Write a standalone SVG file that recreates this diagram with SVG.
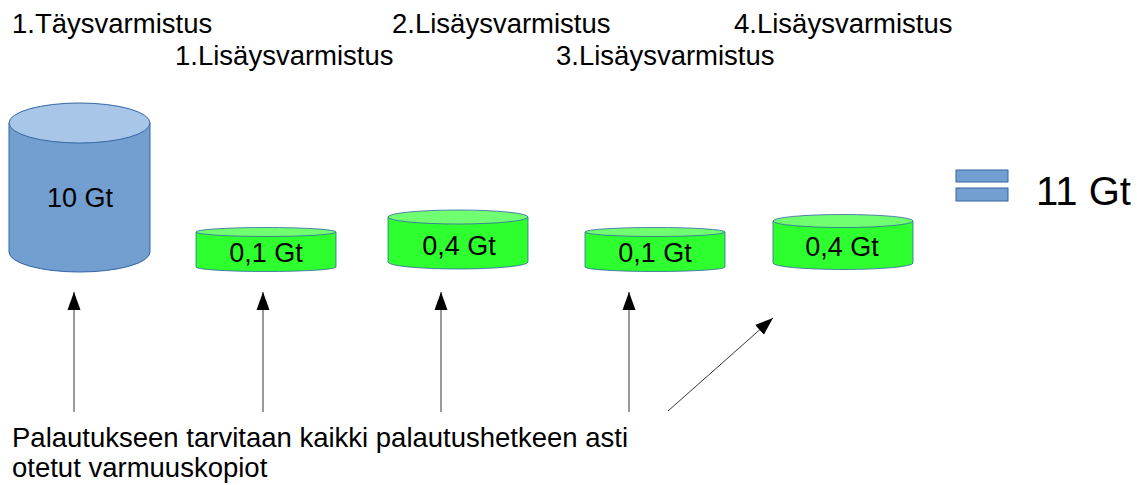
<svg xmlns="http://www.w3.org/2000/svg" width="1148" height="485" viewBox="0 0 1148 485">
<style>
text{font-family:"Liberation Sans",Arial,sans-serif;fill:#000}
.lbl{font-size:27.5px}
.cyl{font-size:27px;text-anchor:middle}
.blue{fill:#729fcf;stroke:#3465a4;stroke-width:1}
.bluetop{fill:#a7c6e8;stroke:#3465a4;stroke-width:1}
.green{fill:#2eff2e;stroke:#3465a4;stroke-width:0.8}
.greentop{fill:#70ff70;stroke:#3465a4;stroke-width:0.8}
.conn{stroke:#000;stroke-width:0.8;fill:none;marker-end:url(#ah)}
</style>
<defs>
<marker id="ah" markerUnits="userSpaceOnUse" markerWidth="20" markerHeight="14" refX="18" refY="7" orient="auto">
<path d="M0,0.5 L18,7 L0,13.5 Z" fill="#000"/>
</marker>
</defs>
<rect width="1148" height="485" fill="#fff"/>
<g id="labels">
<text class="lbl" x="12" y="33">1.Täysvarmistus</text>
<text class="lbl" x="175" y="65">1.Lisäysvarmistus</text>
<text class="lbl" x="392" y="33">2.Lisäysvarmistus</text>
<text class="lbl" x="556" y="65">3.Lisäysvarmistus</text>
<text class="lbl" x="734" y="33">4.Lisäysvarmistus</text>
</g>
<g id="full">
<path class="blue" d="M9,123 V252 A70.5,20 0 0 0 150,252 V123 Z"/>
<ellipse class="bluetop" cx="79.5" cy="123" rx="70.5" ry="20"/>
<text class="cyl" x="80" y="207">10 Gt</text>
</g>
<g id="inc1">
<path class="green" d="M196,232 V267 A70,4.5 0 0 0 336,267 V232 Z"/>
<ellipse class="greentop" cx="266" cy="232" rx="70" ry="4.5"/>
<text class="cyl" x="266" y="262">0,1 Gt</text>
</g>
<g id="inc2">
<path class="green" d="M388,217 V262 A70,7 0 0 0 528,262 V217 Z"/>
<ellipse class="greentop" cx="458" cy="217" rx="70" ry="7"/>
<text class="cyl" x="459" y="255">0,4 Gt</text>
</g>
<g id="inc3">
<path class="green" d="M585,232 V267 A70,4.5 0 0 0 725,267 V232 Z"/>
<ellipse class="greentop" cx="655" cy="232" rx="70" ry="4.5"/>
<text class="cyl" x="655" y="262">0,1 Gt</text>
</g>
<g id="inc4">
<path class="green" d="M773,221 V263 A70,6.5 0 0 0 913,263 V221 Z"/>
<ellipse class="greentop" cx="843" cy="221" rx="70" ry="6.5"/>
<text class="cyl" x="842" y="256">0,4 Gt</text>
</g>
<g id="total">
<rect class="blue" x="956" y="170" width="52" height="12"/>
<rect class="blue" x="956" y="188" width="52" height="13"/>
<text x="1036" y="205" style="font-size:40px">11 Gt</text>
</g>
<g id="connectors">
<line class="conn" x1="74" y1="412" x2="74" y2="292"/>
<line class="conn" x1="263" y1="412" x2="263" y2="292"/>
<line class="conn" x1="441" y1="412" x2="441" y2="292"/>
<line class="conn" x1="629" y1="412" x2="629" y2="292"/>
<line class="conn" x1="668" y1="411" x2="773" y2="318"/>
</g>
<g id="note">
<text class="lbl" x="12" y="447">Palautukseen tarvitaan kaikki palautushetkeen asti</text>
<text class="lbl" x="12" y="477">otetut varmuuskopiot</text>
</g>
</svg>
